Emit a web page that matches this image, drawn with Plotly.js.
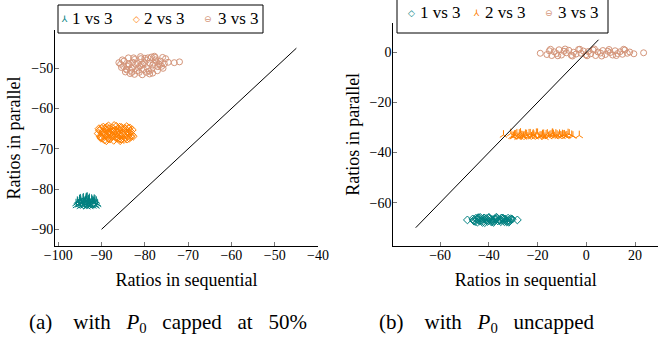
<!DOCTYPE html>
<html>
<head>
<meta charset="utf-8">
<script src="https://cdn.plot.ly/plotly-3.0.1.min.js"></script>
<style>html,body{margin:0;padding:0;background:#fff;overflow:hidden;width:658px;height:337px;}#chart{width:658px;height:357px;margin-top:-20px;}</style>
</head>
<body>
<div id="chart"></div>
<script>
// ---- Data: (a) with P0 capped at 50% ----
const a1x = [-95.8,-95.2,-94.9,-94.5,-94.1,-93.8,-93.4,-93.0,-92.6,-92.2,-91.8,-91.4,-91.0,-95.5,-94.8,-94.3,-93.9,-93.5,-93.1,-92.7,-92.3,-91.9,-91.5,-95.0,-94.6,-94.0,-93.6,-93.2,-92.8,-92.4,-92.0,-93.3,-94.2,-92.9,-91.2,
             -95.6,-95.1,-94.7,-94.4,-93.7,-93.2,-92.8,-92.5,-92.1,-91.7,-91.3,-95.3,-94.2,-93.0,-91.6,-94.9,-93.4,-92.0,-90.9,-95.9];
const a1y = [-84.1,-83.9,-84.3,-83.5,-84.2,-83.0,-84.4,-82.6,-83.8,-82.9,-83.4,-84.0,-83.6,-83.2,-82.8,-82.4,-83.7,-82.1,-83.3,-84.3,-82.5,-83.1,-82.7,-82.9,-83.6,-83.1,-82.3,-84.0,-83.5,-83.9,-84.2,-82.0,-82.2,-82.8,-83.0,
             -83.0,-82.6,-83.3,-84.1,-82.8,-83.5,-82.3,-84.1,-83.3,-82.5,-84.2,-83.7,-83.3,-83.9,-83.3,-82.4,-83.0,-82.8,-83.8,-83.6];
const a2x = [-90.8,-90.5,-90.2,-89.9,-89.6,-89.3,-89.0,-88.7,-88.4,-88.1,-87.8,-87.5,-87.2,-86.9,-86.6,-86.3,-86.0,-85.7,-85.4,-85.1,-84.8,-84.5,-84.2,-83.9,-83.6,-83.3,-83.0,-82.7,-90.0,-89.5,-88.9,-88.3,-87.7,-87.1,-86.5,-85.9,-85.3,-84.7,-84.1,-83.5,-89.2,-88.0,-86.8,-85.6,-84.4,
             -90.6,-90.1,-89.7,-89.1,-88.6,-88.2,-87.6,-87.0,-86.4,-85.8,-85.2,-84.6,-84.0,-83.4,-82.9,-90.3,-89.4,-88.5,-87.4,-86.2,-85.0,-83.8,-88.8,-87.9,-86.7,-85.5,-84.3,-83.2,-89.8,-86.0];
const a2y = [-66.2,-65.4,-67.3,-66.0,-64.6,-67.8,-65.3,-66.9,-64.3,-67.6,-65.8,-64.8,-67.9,-66.4,-64.4,-67.2,-65.6,-68.0,-64.7,-66.6,-67.7,-65.1,-64.5,-66.8,-67.4,-65.7,-66.5,-66.9,-64.9,-66.7,-68.0,-65.9,-67.0,-64.2,-66.1,-67.5,-65.2,-64.9,-67.6,-64.8,-66.5,-66.3,-65.5,-66.8,-66.0,
             -65.0,-67.0,-65.8,-64.8,-66.2,-65.0,-66.8,-65.4,-67.4,-64.6,-66.3,-67.2,-65.7,-66.2,-65.3,-66.9,-66.0,-67.4,-65.6,-65.0,-66.0,-64.9,-64.6,-66.2,-67.2,-67.6,-66.6,-67.0,-67.4,-66.6];
const a3x = [-86.0,-85.4,-84.8,-84.2,-83.6,-83.0,-82.4,-81.8,-81.2,-80.6,-80.0,-79.4,-78.8,-78.2,-77.6,-77.0,-76.4,-75.8,-75.2,-74.6,-72.0,-85.2,-84.5,-83.8,-83.1,-82.4,-81.7,-81.0,-80.3,-79.6,-78.9,-78.2,-77.5,-76.8,-84.0,-82.8,-81.5,-80.2,-79.0,-77.8,-76.5,-83.4,-80.8,-78.5,
             -85.6,-84.9,-83.3,-82.1,-80.9,-79.7,-78.5,-77.3,-76.1,-75.5,-81.3,-79.3,-77.1,-82.6,-84.3,-80.5,-78.0,-75.9,-83.8,-73.2];
const a3y = [-48.6,-49.8,-48.2,-50.4,-49.1,-51.0,-47.8,-50.6,-49.4,-51.6,-47.5,-50.1,-48.7,-51.2,-47.3,-49.6,-48.2,-50.0,-47.6,-48.5,-48.4,-47.9,-50.9,-47.4,-49.9,-51.5,-48.8,-47.1,-50.3,-48.0,-51.4,-49.2,-47.9,-48.9,-49.5,-48.5,-49.9,-48.6,-50.7,-47.0,-49.1,-51.3,-49.3,-47.2,
             -49.0,-49.6,-50.5,-49.0,-47.6,-51.0,-50.3,-48.4,-49.5,-48.9,-51.0,-47.4,-50.6,-47.4,-50.2,-49.0,-48.7,-47.3,-48.9,-48.6];
const aDiagX = [-90, -45];
const aDiagY = [-90, -45];

// ---- Data: (b) with P0 uncapped ----
const b1x = [-48.8,-28.3,-46.6,-46.0,-45.3,-44.7,-44.1,-43.5,-42.9,-42.3,-41.7,-41.1,-40.5,-39.9,-39.3,-38.7,-38.1,-37.5,-36.9,-36.3,-35.7,-35.1,-34.5,-33.9,-33.3,-32.7,-32.1,-31.5,-30.9,-30.4,-45.6,-44.0,-42.6,-41.4,-40.0,-38.4,-37.0,-35.4,-34.0,-32.4,
             -46.3,-45.0,-43.8,-42.0,-40.8,-39.6,-38.0,-36.6,-35.0,-33.6,-32.0,-31.0,-44.4,-41.0,-37.8,-34.8,-31.8,-39.0];
const b1y = [-66.9,-66.9,-66.5,-67.4,-66.2,-67.8,-66.8,-65.9,-67.2,-66.6,-68.0,-66.3,-67.5,-66.0,-67.1,-66.7,-67.9,-66.4,-65.8,-67.3,-66.9,-67.6,-66.1,-67.0,-66.5,-67.7,-66.2,-67.3,-66.8,-66.6,-67.5,-66.0,-67.9,-66.7,-65.9,-67.2,-66.4,-67.0,-66.3,-67.4,
             -67.1,-66.6,-67.3,-66.1,-67.0,-66.5,-67.4,-66.2,-66.8,-67.6,-67.0,-66.4,-66.0,-67.2,-66.7,-66.1,-67.8,-67.7];
const b2x = [-34.0,-2.9,-31.0,-30.0,-29.0,-28.0,-27.0,-26.0,-25.0,-24.0,-23.0,-22.0,-21.0,-20.0,-19.0,-18.0,-17.0,-16.0,-15.0,-14.0,-13.0,-12.0,-11.0,-10.0,-9.0,-8.0,-7.0,-6.0,-30.5,-28.5,-26.5,-24.5,-22.5,-20.5,-18.5,-16.5,-14.5,-12.5,-10.5,-8.5,
             -29.5,-27.5,-25.5,-23.5,-21.5,-19.5,-17.5,-15.5,-13.5,-11.5,-9.5,-7.5,-29.8,-25.8,-21.8,-17.8,-13.8,-9.8,-5.5,-27.2];
const b2y = [-33.0,-33.2,-32.4,-33.6,-32.9,-33.9,-32.2,-33.3,-32.7,-33.8,-32.5,-33.1,-33.7,-32.3,-33.4,-32.8,-33.9,-32.6,-33.2,-32.4,-33.6,-33.0,-32.7,-33.5,-32.9,-33.3,-32.6,-33.1,-33.5,-32.5,-33.2,-32.8,-33.7,-32.3,-33.4,-32.9,-33.0,-32.6,-33.3,-33.5,
             -33.0,-32.6,-33.4,-32.5,-33.1,-33.8,-32.7,-33.6,-32.8,-33.5,-33.0,-32.4,-33.6,-33.8,-32.6,-33.2,-32.3,-32.8,-33.4,-33.8];
const b3x = [-18.9,-16.2,-15.2,-14.2,-13.2,-12.2,-11.2,-10.2,-9.2,-8.2,-7.2,-6.2,-5.2,-4.2,-3.2,-2.2,-1.2,-0.2,0.8,1.8,2.8,3.8,4.8,5.8,6.8,7.8,8.8,9.8,10.8,11.8,12.8,13.8,14.8,15.8,16.8,17.8,19.5,23.5,-14.7,-11.7,-8.7,-5.7,-2.7,0.3,3.3,6.3,9.3,12.3,15.3];
const b3y = [-0.4,-0.9,0.6,-1.3,0.2,-0.5,1.0,-1.1,0.4,-0.2,0.8,-1.2,0.0,-0.7,1.1,-0.4,0.5,-1.0,0.3,-0.6,0.9,-1.3,0.1,-0.3,0.7,-0.9,0.4,-0.1,-1.1,0.6,-0.5,0.2,-0.8,0.9,-0.4,0.1,-0.6,-0.2,1.2,-1.4,1.3,-1.5,1.2,-1.4,1.3,-1.5,1.1,-1.3,1.2];
const bDiagX = [-70, 5];
const bDiagY = [-70, 5];

const seriesNames = ['1 vs 3', '2 vs 3', '3 vs 3'];
const xTicksA = [-100, -90, -80, -70, -60, -50, -40];
const yTicksA = [-90, -80, -70, -60, -50];
const xTicksB = [-60, -40, -20, 0, 20];
const yTicksB = [-60, -40, -20, 0];

const TEAL = '#008080', ORANGE = '#ff8000', BROWN = '#d4957a';
const SERIF = 'Liberation Serif, Times New Roman, serif';

function pts(x, y, name, color, symbol, size, xa, ya) {
  return {type: 'scatter', mode: 'markers', x: x, y: y, name: name, xaxis: xa, yaxis: ya, showlegend: false,
    marker: {symbol: symbol, color: color, size: size, line: {color: color, width: 1}}, hoverinfo: 'skip'};
}
const traces = [
  pts(a1x, a1y, seriesNames[0], TEAL, 'y-up-open', 6, 'x', 'y'),
  pts(a2x, a2y, seriesNames[1], ORANGE, 'diamond-open', 6, 'x', 'y'),
  pts(a3x, a3y, seriesNames[2], BROWN, 'circle-open', 6, 'x', 'y'),
  {type: 'scatter', mode: 'lines', x: aDiagX, y: aDiagY, xaxis: 'x', yaxis: 'y', showlegend: false, line: {color: '#000', width: 1}, hoverinfo: 'skip'},
  pts(b1x, b1y, seriesNames[0], TEAL, 'diamond-open', 6, 'x2', 'y2'),
  pts(b2x, b2y, seriesNames[1], ORANGE, 'y-up-open', 6, 'x2', 'y2'),
  pts(b3x, b3y, seriesNames[2], BROWN, 'circle-open', 6, 'x2', 'y2'),
  {type: 'scatter', mode: 'lines', x: bDiagX, y: bDiagY, xaxis: 'x2', yaxis: 'y2', showlegend: false, line: {color: '#000', width: 1}, hoverinfo: 'skip'}
];

function axis(domain, range, ticks, title, anchor, standoff, lso) {
  return {domain: domain, range: range, tickmode: 'array', tickvals: ticks, anchor: anchor,
    showline: true, linecolor: '#000', linewidth: 1, mirror: false, showgrid: false, zeroline: false,
    ticks: 'inside', ticklen: 4, tickcolor: '#777', tickwidth: 1, ticklabelstandoff: lso,
    tickfont: {family: SERIF, size: 14, color: '#000'}, automargin: false,
    title: {text: title, font: {family: SERIF, size: 18, color: '#000'}, standoff: standoff}};
}

const H = 357;
const W = 658;
function py(p) { return (337 - p) / H; }
function px(p) { return p / W; }

// Legend drawn as box + text (library annotations/shapes)
const legA = {box: [58, 263, 5, 33], ty: 19, mk: [64, 136, 208], tx: [70, 142, 216], glyph: ['\u2144', '\u25C7', '\u2296'], col: [TEAL, ORANGE, BROWN]};
const legB = {box: [397, 608, -10, 33], ty: 12.7, mk: [411, 476, 549], tx: [418, 483, 556], glyph: ['\u25C7', '\u2144', '\u2296'], col: [TEAL, ORANGE, BROWN]};

const shapes = [];
const annotations = [];
[legA, legB].forEach(function (L) {
  shapes.push({type: 'rect', xref: 'paper', yref: 'paper', x0: px(L.box[0]), x1: px(L.box[1]), y0: py(L.box[3]), y1: py(L.box[2]),
    line: {color: '#000', width: 1}, fillcolor: '#fff', layer: 'above'});
  for (let i = 0; i < 3; i++) {
    annotations.push({xref: 'paper', yref: 'paper', x: px(L.mk[i]), y: py(L.ty), xanchor: 'center', yanchor: 'middle', showarrow: false,
      text: L.glyph[i], font: {family: 'DejaVu Sans', size: 9, color: L.col[i]}});
    annotations.push({xref: 'paper', yref: 'paper', x: px(L.tx[i]), y: py(L.ty), xanchor: 'left', yanchor: 'middle', showarrow: false,
      text: seriesNames[i], font: {family: SERIF, size: 17, color: '#000'}});
  }
});
const sp2 = '&nbsp;&nbsp;&nbsp;', sp1 = '&nbsp;&nbsp;&nbsp;&nbsp;';
annotations.push({xref: 'paper', yref: 'paper', x: px(167.5), y: py(323), xanchor: 'center', yanchor: 'middle', showarrow: false,
  text: '(a)' + sp1 + 'with' + sp2 + '<i>P</i><sub>0</sub>' + sp2 + 'capped' + sp2 + 'at' + sp2 + '50%', font: {family: SERIF, size: 21, color: '#000'}});
annotations.push({xref: 'paper', yref: 'paper', x: px(486), y: py(323), xanchor: 'center', yanchor: 'middle', showarrow: false,
  text: '(b)' + sp1 + 'with' + sp2 + '<i>P</i><sub>0</sub>' + sp2 + 'uncapped', font: {family: SERIF, size: 21, color: '#000'}});

const layout = {
  width: W, height: H, margin: {l: 0, r: 0, t: 0, b: 0},
  font: {family: SERIF, color: '#000'},
  paper_bgcolor: '#fff', plot_bgcolor: 'rgba(0,0,0,0)',
  xaxis: axis([px(55), px(318)], [-100.76, -40.0], xTicksA, 'Ratios in sequential', 'y', 11, -4),
  yaxis: axis([py(246), py(30)], [-94.15, -40.48], yTicksA, 'Ratios in parallel', 'x', 5, -2),
  xaxis2: axis([px(393.3), 1.0], [-79.2, 29.4], xTicksB, 'Ratios in sequential', 'y2', 11, -4),
  yaxis2: axis([py(246), py(22.7)], [-77.3, 11.8], yTicksB, 'Ratios in parallel', 'x2', 5, -2),
  shapes: shapes,
  annotations: annotations,
  showlegend: false
};

Plotly.newPlot('chart', traces, layout, {staticPlot: true, displayModeBar: false});
</script>
</body>
</html>
